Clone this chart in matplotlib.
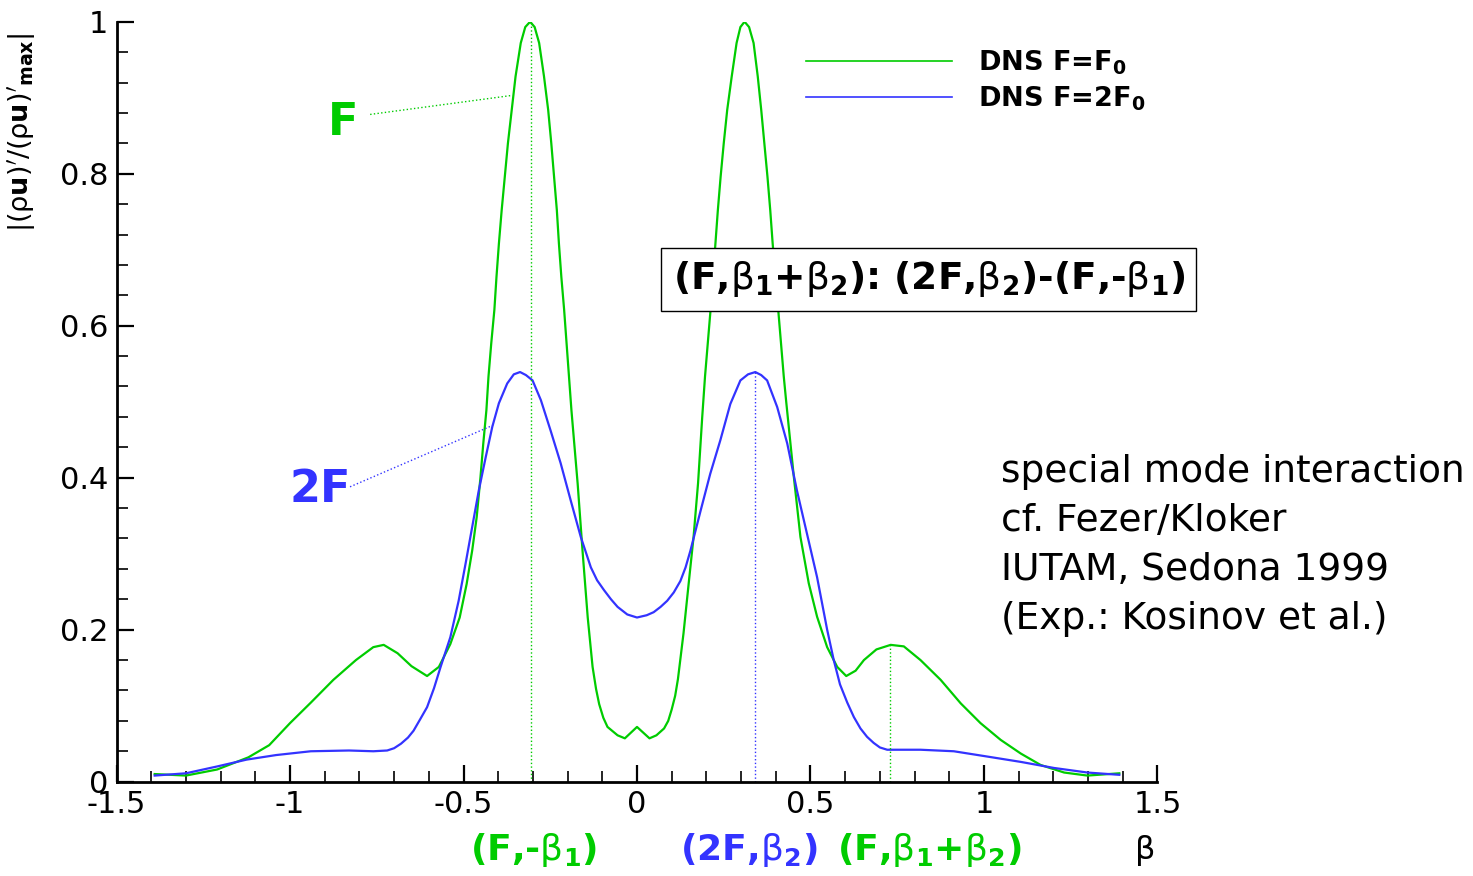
import matplotlib
matplotlib.use("Agg")
import matplotlib.pyplot as plt
from matplotlib.ticker import MultipleLocator
import matplotlib.transforms as mtransforms

plt.rcParams['axes.unicode_minus'] = False
plt.rcParams['mathtext.fontset'] = 'dejavusans'

# DNS F=F0 (green)
green_beta = [-1.39, -1.30, -1.21, -1.12, -1.06, -1.00, -0.94, -0.875, -0.81, -0.76,
              -0.73, -0.69, -0.65, -0.605, -0.571, -0.538, -0.511, -0.491, -0.475, -0.462,
              -0.451, -0.443, -0.434, -0.428, -0.420, -0.411, -0.405, -0.398, -0.390, -0.381,
              -0.372, -0.361, -0.350, -0.335, -0.322, -0.308, -0.295, -0.282, -0.268, -0.256,
              -0.247, -0.239, -0.231, -0.225, -0.218, -0.210, -0.203, -0.196, -0.189, -0.171,
              -0.157, -0.142, -0.128, -0.118, -0.109, -0.097, -0.085, -0.056, -0.035, 0.0,
              0.036, 0.056, 0.078, 0.090, 0.100, 0.110, 0.118, 0.134, 0.149, 0.163,
              0.176, 0.188, 0.196, 0.204, 0.212, 0.219, 0.226, 0.233, 0.241, 0.250,
              0.260, 0.273, 0.287, 0.298, 0.310, 0.323, 0.336, 0.348, 0.358, 0.367,
              0.376, 0.384, 0.391, 0.399, 0.407, 0.415, 0.423, 0.430, 0.440, 0.452,
              0.471, 0.495, 0.519, 0.548, 0.577, 0.603, 0.630, 0.654, 0.690, 0.731,
              0.769, 0.817, 0.875, 0.933, 0.990, 1.048, 1.106, 1.163, 1.231, 1.298,
              1.39]
green_amp = [0.010, 0.008, 0.016, 0.032, 0.048, 0.077, 0.104, 0.134, 0.160, 0.177,
             0.180, 0.169, 0.152, 0.139, 0.151, 0.181, 0.216, 0.260, 0.304, 0.348,
             0.401, 0.445, 0.489, 0.533, 0.577, 0.621, 0.664, 0.708, 0.752, 0.796,
             0.840, 0.884, 0.928, 0.972, 0.993, 1.000, 0.993, 0.972, 0.928, 0.884,
             0.840, 0.796, 0.752, 0.708, 0.664, 0.621, 0.577, 0.533, 0.489, 0.392,
             0.304, 0.216, 0.151, 0.122, 0.102, 0.084, 0.072, 0.061, 0.057, 0.072,
             0.057, 0.061, 0.070, 0.080, 0.095, 0.113, 0.135, 0.195, 0.261, 0.322,
             0.393, 0.480, 0.533, 0.577, 0.621, 0.664, 0.708, 0.752, 0.796, 0.840,
             0.884, 0.928, 0.972, 0.993, 1.000, 0.993, 0.972, 0.928, 0.884, 0.840,
             0.796, 0.752, 0.708, 0.664, 0.621, 0.577, 0.533, 0.500, 0.455, 0.401,
             0.322, 0.261, 0.217, 0.177, 0.151, 0.139, 0.146, 0.160, 0.174, 0.180,
             0.178, 0.160, 0.134, 0.103, 0.077, 0.055, 0.037, 0.022, 0.012, 0.008,
             0.011]

# DNS F=2F0 (blue)
blue_beta = [-1.39, -1.30, -1.21, -1.125, -1.04, -0.94, -0.83, -0.76, -0.72, -0.70,
             -0.68, -0.66, -0.644, -0.625, -0.605, -0.585, -0.566, -0.538, -0.514, -0.494,
             -0.475, -0.456, -0.436, -0.417, -0.398, -0.374, -0.355, -0.337, -0.320, -0.301,
             -0.277, -0.249, -0.220, -0.191, -0.162, -0.133, -0.115, -0.095, -0.075, -0.056,
             -0.028, 0.0, 0.028, 0.048, 0.068, 0.087, 0.106, 0.125, 0.140, 0.154,
             0.183, 0.211, 0.240, 0.269, 0.298, 0.320, 0.341, 0.358, 0.375, 0.404,
             0.433, 0.461, 0.490, 0.519, 0.548, 0.567, 0.585, 0.606, 0.625, 0.644,
             0.663, 0.682, 0.70, 0.721, 0.817, 0.913, 1.01, 1.106, 1.202, 1.298,
             1.39]
blue_amp = [0.008, 0.011, 0.020, 0.029, 0.035, 0.040, 0.041, 0.040, 0.041, 0.044,
            0.050, 0.058, 0.067, 0.082, 0.098, 0.123, 0.151, 0.190, 0.238, 0.287,
            0.335, 0.383, 0.427, 0.467, 0.498, 0.524, 0.536, 0.539, 0.535, 0.528,
            0.502, 0.462, 0.419, 0.370, 0.322, 0.282, 0.265, 0.252, 0.240, 0.230,
            0.220, 0.216, 0.219, 0.223, 0.230, 0.238, 0.249, 0.264, 0.282, 0.304,
            0.356, 0.405, 0.449, 0.497, 0.528, 0.536, 0.539, 0.535, 0.528, 0.493,
            0.445, 0.383, 0.326, 0.269, 0.200, 0.160, 0.128, 0.104, 0.085, 0.070,
            0.059, 0.051, 0.045, 0.042, 0.042, 0.040, 0.033, 0.026, 0.018, 0.012,
            0.009]

# marked modes: beta position and amplitude at the top of the dotted line
mode_beta = [-0.305, 0.341, 0.728]
mode_amp = [1.0, 0.539, 0.180]
mode_labels = [r"(F,-$\mathrm{\beta}_\mathbf{1}$)", r"(2F,$\mathrm{\beta}_\mathbf{2}$)",
               r"(F,$\mathrm{\beta}_\mathbf{1}$+$\mathrm{\beta}_\mathbf{2}$)"]
mode_label_beta = [-0.299, 0.321, 0.841]

xticks = [-1.5, -1, -0.5, 0, 0.5, 1, 1.5]
xtick_labels = ['-1.5', '-1', '-0.5', '0', '0.5', '1', '1.5']
yticks = [0, 0.2, 0.4, 0.6, 0.8, 1]
ytick_labels = ['0', '0.2', '0.4', '0.6', '0.8', '1']

GREEN = '#00cc00'
BLUE = '#3333ff'

fig = plt.figure(figsize=(14.73, 8.76), dpi=100)
ax = fig.add_axes([0.0791, 0.1077, 0.7067, 0.8675])

ax.plot(green_beta, green_amp, color=GREEN, lw=1.6, label=r"DNS F=F$_\mathbf{0}$")
ax.plot(blue_beta, blue_amp, color=BLUE, lw=1.6, label=r"DNS F=2F$_\mathbf{0}$")

# dotted lines down to the axis at the marked modes
mode_colors = [GREEN, BLUE, GREEN]
for b, a, c in zip(mode_beta, mode_amp, mode_colors):
    ax.plot([b, b], [0, a], color=c, lw=1, ls=':')

ax.set_xlim(-1.5, 1.5)
ax.set_ylim(0, 1)
ax.spines['top'].set_visible(False)
ax.spines['right'].set_visible(False)
ax.spines['left'].set_linewidth(2)
ax.spines['bottom'].set_linewidth(2)

ax.set_xticks(xticks)
ax.set_xticklabels(xtick_labels)
ax.set_yticks(yticks)
ax.set_yticklabels(ytick_labels)
ax.xaxis.set_minor_locator(MultipleLocator(0.1))
ax.yaxis.set_minor_locator(MultipleLocator(0.04))
ax.tick_params(which='major', direction='in', length=12, width=1.6, labelsize=22, pad=6)
ax.tick_params(which='minor', direction='in', length=8, width=1.2)

ax.set_ylabel(r"$|(\mathrm{\rho}\mathbf{u})'/(\mathrm{\rho}\mathbf{u})'_{\mathbf{max}}|$", fontsize=19.5)
ax.yaxis.set_label_coords(-0.075, 0.855)

ax.set_xlabel("β", fontsize=23)
ax.xaxis.set_label_coords(0.988, -0.09)
ax.xaxis.label.set_va('center')

# labels under the axis
trans = mtransforms.blended_transform_factory(ax.transData, ax.transAxes)
for b, lab, c in zip(mode_label_beta, mode_labels, mode_colors):
    ax.text(b, -0.09, lab, transform=trans, ha='center', va='center', color=c,
            fontsize=26, fontweight='bold', clip_on=False)

# curve annotations
ax.text(-0.847, 0.868, "F", color=GREEN, fontsize=32, fontweight='bold', ha='center', va='center')
ax.plot([-0.769, -0.361], [0.878, 0.903], color=GREEN, lw=1, ls=':')
ax.text(-0.913, 0.384, "2F", color=BLUE, fontsize=32, fontweight='bold', ha='center', va='center')
ax.plot([-0.827, -0.415], [0.388, 0.469], color=BLUE, lw=1, ls=':')

ax.text(0.841, 0.661,
        r"(F,$\mathrm{\beta}_\mathbf{1}$+$\mathrm{\beta}_\mathbf{2}$): (2F,$\mathrm{\beta}_\mathbf{2}$)-(F,-$\mathrm{\beta}_\mathbf{1}$)",
        fontsize=27, fontweight='bold', ha='center', va='center',
        bbox=dict(boxstyle='square,pad=0.3', fc='white', ec='black', lw=1))

ax.text(1.048, 0.311,
        "special mode interaction\ncf. Fezer/Kloker\nIUTAM, Sedona 1999\n(Exp.: Kosinov et al.)",
        fontsize=27, ha='left', va='center', linespacing=1.47, clip_on=False)

ax.legend(loc='upper left', bbox_to_anchor=(0.6624, 0.965), frameon=False,
          borderpad=0, borderaxespad=0, handlelength=5.4, handletextpad=0.95,
          labelspacing=0.3, prop={'size': 19.5, 'weight': 'bold'})
for line in ax.get_legend().get_lines():
    line.set_linewidth(1.2)

fig.savefig("out.png", dpi=100)
